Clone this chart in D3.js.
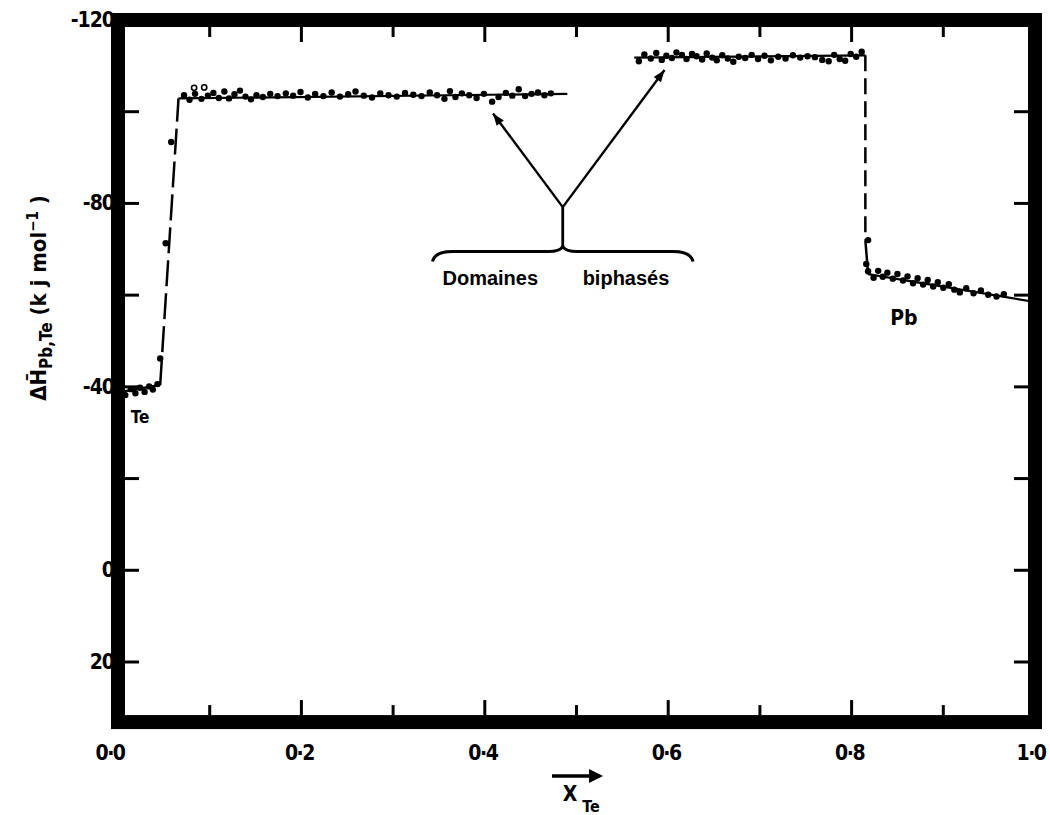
<!DOCTYPE html>
<html><head><meta charset="utf-8">
<script src="https://cdn.jsdelivr.net/npm/d3@7"></script>
<style>body{margin:0;background:#fff} svg{display:block}</style>
</head><body><svg id="c" width="1050" height="815"></svg>
<script>
// ---- data ----
const xTickValues = [0,0.1,0.2,0.3,0.4,0.5,0.6,0.7,0.8,0.9,1.0];
const xTickLabels = ["0·0","0·2","0·4","0·6","0·8","1·0"];
const xLabelValues = [0,0.2,0.4,0.6,0.8,1.0];
const yTickValues = [-120,-100,-80,-60,-40,-20,0,20];
const yLabelValues = [-120,-80,-40,0,20];
const yTickLabels = ["-120","-80","-40","0","20"];

const lineTe = [[0,-38.8],[0.046,-40.4]];
const lineRise = [[0.046,-40.4],[0.066,-102.9]];
const linePlateau1 = [[0.066,-102.9],[0.49,-103.9]];
const linePlateau2 = [[0.563,-111.8],[0.815,-112.3]];
const lineDrop = [[0.815,-112.3],[0.815,-72]];
const lineDropEnd = [[0.815,-72],[0.818,-64.6]];
const linePb = [[0.818,-64.6],[1.0,-58.5]];

const ptsTe = [[0.008,-38.2],[0.014,-39.5],[0.019,-38.6],[0.024,-39.8],[0.029,-38.9],[0.034,-40.1],[0.038,-39.4],[0.043,-40.6]];
const ptsRise = [[0.046,-46.2],[0.052,-71.3],[0.058,-93.4]];
const ptsPlateau1 = [[0.072,-103.6],[0.078,-102.6],[0.084,-103.9],[0.091,-102.8],[0.098,-103.5],[0.104,-104.1],[0.110,-103.0],[0.116,-104.4],[0.121,-102.9],[0.127,-103.8],[0.133,-104.6],[0.139,-103.3],[0.145,-102.7],[0.151,-103.6],[0.158,-103.2],[0.166,-103.9],[0.174,-103.4],[0.183,-104.0],[0.191,-103.5],[0.199,-104.3],[0.207,-103.1],[0.215,-103.9],[0.224,-103.4],[0.233,-104.2],[0.242,-103.3],[0.251,-103.8],[0.259,-104.4],[0.268,-103.5],[0.277,-103.1],[0.286,-104.0],[0.295,-103.6],[0.304,-103.3],[0.313,-104.1],[0.322,-103.7],[0.331,-103.4],[0.340,-104.2],[0.348,-103.6],[0.356,-102.8],[0.362,-104.5],[0.368,-103.2],[0.375,-104.0],[0.383,-103.6],[0.391,-103.0],[0.399,-103.9],[0.408,-102.2],[0.415,-103.2],[0.423,-104.1],[0.430,-103.5],[0.437,-104.9],[0.444,-103.4],[0.451,-103.9],[0.458,-104.2],[0.465,-103.6],[0.472,-104.0]];
const ptsPlateau1Open = [[0.083,-105.2],[0.094,-105.3]];
const ptsPlateau2 = [[0.568,-111.0],[0.574,-112.5],[0.581,-111.6],[0.587,-112.8],[0.593,-111.3],[0.598,-112.2],[0.604,-111.7],[0.609,-112.9],[0.615,-112.4],[0.620,-111.5],[0.626,-112.6],[0.631,-112.1],[0.637,-111.4],[0.642,-112.7],[0.648,-111.8],[0.653,-111.2],[0.659,-112.3],[0.665,-111.6],[0.671,-110.9],[0.677,-112.0],[0.684,-111.7],[0.691,-112.4],[0.698,-111.5],[0.705,-112.2],[0.712,-111.2],[0.720,-112.0],[0.728,-111.6],[0.736,-112.3],[0.744,-111.8],[0.752,-112.1],[0.760,-111.9],[0.768,-111.3],[0.775,-111.0],[0.781,-112.4],[0.787,-111.5],[0.793,-111.1],[0.799,-112.6],[0.805,-112.0],[0.811,-113.1]];
const ptsPb = [[0.818,-72.0],[0.816,-66.8],[0.818,-65.2],[0.824,-63.8],[0.829,-65.3],[0.834,-64.0],[0.839,-64.9],[0.845,-63.6],[0.850,-64.6],[0.856,-63.2],[0.861,-64.1],[0.867,-62.6],[0.872,-63.7],[0.878,-62.3],[0.883,-63.3],[0.889,-61.9],[0.894,-62.8],[0.900,-61.6],[0.906,-62.4],[0.912,-61.2],[0.918,-60.6],[0.925,-61.5],[0.933,-60.4],[0.941,-61.0],[0.949,-60.1],[0.958,-59.7],[0.966,-60.2]];

// annotation (data coordinates)
const annJunction = [0.485,-79.2];
const annTips = [[0.409,-99.6],[0.596,-109.1]];
const annStemEnd = [0.485,-70.6];
const braceLeft = 0.343, braceRight = 0.627, braceY = -69.5;
const annText = [["Domaines",0.406,-62.2],["biphasés",0.554,-62.2]];

// ---- drawing ----
const svg = d3.select("#c");
const x = d3.scaleLinear().domain([0,1]).range([118,1035]);
const y = d3.scaleLinear().domain([-120,20]).range([20,662]);
const yBottom = 33.1;
const FONT = "'DejaVu Sans Condensed','DejaVu Sans','Liberation Sans',sans-serif";

const line = d3.line().x(d=>x(d[0])).y(d=>y(d[1]));

// frame
svg.append("rect")
  .attr("x", x(0)).attr("y", y(-120))
  .attr("width", x(1)-x(0)).attr("height", y(yBottom)-y(-120))
  .attr("fill","none").attr("stroke","#000").attr("stroke-width",14);

// ticks
const fi = 7;
const tg = svg.append("g").attr("stroke","#000").attr("stroke-width",3);
xTickValues.forEach((v,i)=>{
  if (i===0 || i===xTickValues.length-1) return;
  const L = (i%2===0)?15:10;
  tg.append("line").attr("x1",x(v)).attr("x2",x(v)).attr("y1",y(yBottom)-fi).attr("y2",y(yBottom)-fi-L);
  tg.append("line").attr("x1",x(v)).attr("x2",x(v)).attr("y1",y(-120)+fi).attr("y2",y(-120)+fi+L);
});
yTickValues.forEach((v,i)=>{
  if (i===0) return;
  const L = 14;
  tg.append("line").attr("y1",y(v)).attr("y2",y(v)).attr("x1",x(0)+fi).attr("x2",x(0)+fi+L);
  tg.append("line").attr("y1",y(v)).attr("y2",y(v)).attr("x1",x(1)-fi).attr("x2",x(1)-fi-L);
});

// tick labels
const lab = svg.append("g").attr("font-family",FONT).attr("font-weight","bold").attr("font-size",21).attr("fill","#000");
yLabelValues.forEach((v,i)=>{
  lab.append("text").attr("x", x(0)-4).attr("y", y(v)+7).attr("text-anchor","end")
    .attr("letter-spacing",-1).text(yTickLabels[i]);
});
xLabelValues.forEach((v,i)=>{
  lab.append("text").attr("x", x(v)-(i===0?8:(i===5?4:2))).attr("y", 760).attr("text-anchor","middle")
    .attr("letter-spacing",-1.5).text(xTickLabels[i]);
});

// axis titles
const yt = svg.append("text").attr("font-family",FONT).attr("font-weight","bold").attr("font-size",22)
  .attr("transform","translate(46,298) rotate(-90)").attr("text-anchor","middle");
yt.append("tspan").text("ΔH̄");
yt.append("tspan").attr("font-size",17).attr("dy",6).text("Pb,Te");
yt.append("tspan").attr("dy",-6).text(" (k j mol");
yt.append("tspan").attr("font-size",15).attr("dy",-8).text("−1");
yt.append("tspan").attr("dy",8).text(" )");

const xt = svg.append("g").attr("font-family",FONT).attr("font-weight","bold");
xt.append("text").attr("x",570).attr("y",801).attr("font-size",21).attr("text-anchor","middle").text("X");
xt.append("text").attr("x",591).attr("y",812).attr("font-size",16).attr("text-anchor","middle").text("Te");
svg.append("line").attr("x1",552).attr("x2",592).attr("y1",776).attr("y2",776).attr("stroke","#000").attr("stroke-width",3.5);
svg.append("path").attr("d","M589,769 L603,776 L589,783 Z").attr("fill","#000");

// lines
const lg = svg.append("g").attr("fill","none").attr("stroke","#000");
lg.append("path").datum(lineTe).attr("d",line).attr("stroke-width",2.5);
lg.append("path").datum(lineRise).attr("d",line).attr("stroke-width",2.5).attr("stroke-dasharray","26,7");
lg.append("path").datum(linePlateau1).attr("d",line).attr("stroke-width",2.2);
lg.append("path").datum(linePlateau2).attr("d",line).attr("stroke-width",2.2);
lg.append("path").datum(lineDrop).attr("d",line).attr("stroke-width",2.5).attr("stroke-dasharray","16,7");
lg.append("path").datum(lineDropEnd).attr("d",line).attr("stroke-width",2.5);
lg.append("path").datum(linePb).attr("d",line).attr("stroke-width",2.2);

// points
const pg = svg.append("g");
[ptsTe, ptsRise, ptsPlateau1, ptsPlateau2, ptsPb].forEach(arr=>{
  pg.selectAll(null).data(arr).enter().append("circle")
    .attr("cx",d=>x(d[0])).attr("cy",d=>y(d[1])).attr("r",3.2).attr("fill","#000");
});
pg.selectAll(null).data(ptsPlateau1Open).enter().append("circle")
  .attr("cx",d=>x(d[0])).attr("cy",d=>y(d[1])).attr("r",2.6).attr("fill","#fff")
  .attr("stroke","#000").attr("stroke-width",1.6);

// labels Te / Pb
svg.append("text").attr("font-family",FONT).attr("font-weight","bold").attr("font-size",17)
  .attr("x",x(0.024)).attr("y",y(-32.2)).attr("text-anchor","middle").text("Te");
svg.append("text").attr("font-family",FONT).attr("font-weight","bold").attr("font-size",21)
  .attr("x",x(0.857)).attr("y",y(-53.5)).attr("text-anchor","middle").text("Pb");

// annotation
const ag = svg.append("g").attr("stroke","#000").attr("fill","none").attr("stroke-width",2.4);
annTips.forEach(t=>{
  const x0=x(annJunction[0]), y0=y(annJunction[1]), x1=x(t[0]), y1=y(t[1]);
  ag.append("line").attr("x1",x0).attr("y1",y0).attr("x2",x1).attr("y2",y1);
  const a=Math.atan2(y1-y0,x1-x0), L=12, W=4.5;
  const bx=x1-L*Math.cos(a), by=y1-L*Math.sin(a);
  svg.append("path").attr("fill","#000")
    .attr("d",`M${x1},${y1} L${bx+W*Math.sin(a)},${by-W*Math.cos(a)} L${bx-W*Math.sin(a)},${by+W*Math.cos(a)} Z`);
});
ag.append("line").attr("x1",x(annJunction[0])).attr("y1",y(annJunction[1]))
  .attr("x2",x(annStemEnd[0])).attr("y2",y(annStemEnd[1])).attr("stroke-width",2.8);
{
  const xl=x(braceLeft), xr=x(braceRight), xm=x(annJunction[0]), yb=y(braceY), yp=y(annStemEnd[1]);
  ag.append("path").attr("stroke-width",3)
    .attr("d",`M${xl},${yb+10} Q${xl+2},${yb} ${xl+20},${yb} L${xm-14},${yb} Q${xm-3},${yb} ${xm},${yp}
               Q${xm+3},${yb} ${xm+14},${yb} L${xr-20},${yb} Q${xr-2},${yb} ${xr},${yb+10}`);
}
annText.forEach(t=>{
  svg.append("text").attr("font-family","'Liberation Sans',Arial,sans-serif").attr("font-weight","bold")
    .attr("font-size",20).attr("x",x(t[1])).attr("y",y(t[2])).attr("text-anchor","middle").text(t[0]);
});
</script>
</body></html>
